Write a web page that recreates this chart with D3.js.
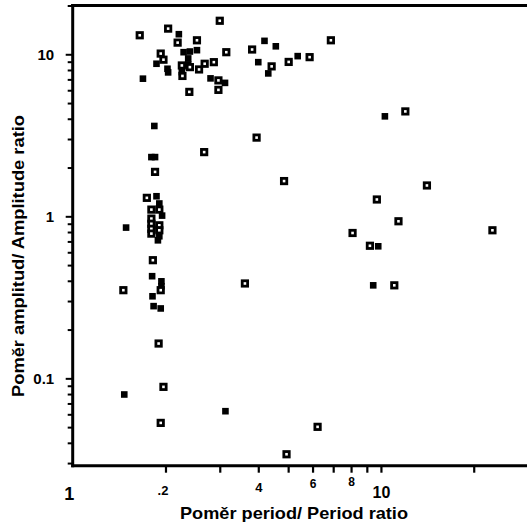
<!DOCTYPE html>
<html><head><meta charset="utf-8">
<script src="https://cdn.jsdelivr.net/npm/d3@7"></script>
<style>body{margin:0;background:#fff}svg{display:block}</style>
</head><body>
<svg id="chart" width="527" height="522"></svg>
<script>
// ---- data ----
const openPeriodRatio = [1.65,2.04,2.19,2.53,3.0,1.93,1.97,2.26,2.27,2.40,2.57,2.68,2.87,3.15,2.97,2.97,2.39,3.82,4.42,5.02,5.87,6.88,12.0,3.95,2.67,4.85,14.1,9.70,11.4,8.09,23.0,9.21,11.05,3.62,1.46,1.74,1.85,1.80,1.80,1.80,1.80,1.80,1.91,1.91,1.91,1.82,1.93,1.90,1.97,1.93,6.23,4.94];
const openAmplitudeRatio = [13.1,14.4,11.8,12.2,16.1,10.1,9.26,8.53,7.35,8.33,8.06,8.74,8.94,10.3,6.9,6.03,5.86,10.7,8.42,8.97,9.6,12.2,4.44,3.06,2.49,1.65,1.55,1.27,0.932,0.789,0.82,0.658,0.375,0.385,0.35,1.30,1.88,1.10,0.968,0.899,0.837,0.782,1.10,0.88,0.82,0.536,0.35,0.164,0.0886,0.0531,0.0502,0.034];
const filledPeriodRatio = [2.21,1.69,1.87,2.03,2.04,2.29,2.40,2.53,2.37,2.37,2.26,2.80,3.12,4.19,4.56,4.00,4.31,5.37,10.3,1.84,1.80,1.85,1.87,1.91,1.95,1.49,1.91,1.89,1.81,1.94,1.94,1.815,1.83,1.93,1.47,3.13,9.44,9.80];
const filledAmplitudeRatio = [13.3,7.07,8.74,8.14,7.73,10.3,10.4,10.6,9.43,8.66,7.76,7.10,6.66,12.1,11.2,8.94,7.62,9.74,4.14,3.61,2.32,2.32,1.33,1.20,1.01,0.852,0.753,0.711,0.427,0.397,0.370,0.321,0.279,0.270,0.0795,0.0627,0.375,0.653];
const xTickValues = [1,2,3,4,5,6,7,8,9,10,20];
const xTickLabels = ["1",".2","","4","","6","","8","","10",""];
const yMajorTicks = [0.1,1,10];
const yTickLabels = ["0.1","1","10"];
const xTitle = "Poměr period/ Period ratio";
const yTitle = "Poměr amplitud/ Amplitude ratio";

// ---- styling / layout ----
const font = "'Liberation Sans', Arial, Helvetica, sans-serif";
const xLabelStyle = { // per-label font size, baseline offset, dx
  "1":{size:18,dy:34.3,dx:-4}, ".2":{size:13,dy:29.3,dx:-3}, "4":{size:13,dy:26.3,dx:0},
  "6":{size:12,dy:22.3,dx:0}, "8":{size:12,dy:20.3,dx:0}, "10":{size:16,dy:32.8,dx:0}
};

const svg = d3.select("#chart");
const x = d3.scaleLog().domain([1,30]).range([72.7,528]);
const y = d3.scaleLog().domain([0.0289,20]).range([465.7,5.5]);

const yTicks = y.ticks().filter(v => v >= 0.03 && v <= 20);
const yAxis = d3.axisLeft(y).tickValues(yTicks).tickSizeOuter(0)
  .tickSize(5).tickFormat(v => { const i = yMajorTicks.findIndex(m => Math.abs(m - v) < 1e-9); return i >= 0 ? yTickLabels[i] : ""; });
const gy = svg.append("g").attr("transform", `translate(${x.range()[0]},0)`).call(yAxis);
gy.select(".domain").remove();
gy.selectAll(".tick line").attr("stroke","#000").attr("stroke-width",2)
  .attr("x2", d => yMajorTicks.some(m => Math.abs(m-d)<1e-9) ? -7 : -5);
gy.selectAll(".tick text").attr("x",-18.5).attr("font-family",font).attr("font-weight","bold")
  .attr("font-size",15).attr("fill","#000").attr("dy","0.36em");

const xAxis = d3.axisBottom(x).tickValues(xTickValues).tickSizeOuter(0).tickSize(7)
  .tickFormat((v,i) => xTickLabels[i]);
const gx = svg.append("g").attr("transform", `translate(0,${y.range()[0]})`).call(xAxis);
gx.select(".domain").remove();
gx.selectAll(".tick line").attr("stroke","#000").attr("stroke-width",2.2);
gx.selectAll(".tick").filter(d => d === 1).select("line").remove();
gx.selectAll(".tick text").each(function(){
  const t = d3.select(this), s = xLabelStyle[t.text()];
  if (!s) return;
  t.attr("font-family",font).attr("font-weight","bold").attr("font-size",s.size)
   .attr("fill","#000").attr("y",s.dy).attr("dy",0).attr("dx",s.dx);
});

// frame: left axis, bottom axis, top border
svg.append("line").attr("x1",x.range()[0]).attr("x2",x.range()[0]).attr("y1",y.range()[1]-1.5).attr("y2",y.range()[0]+1.5)
  .attr("stroke","#000").attr("stroke-width",3);
svg.append("line").attr("x1",x.range()[0]-1.5).attr("x2",x.range()[1]).attr("y1",y.range()[0]).attr("y2",y.range()[0])
  .attr("stroke","#000").attr("stroke-width",3);
svg.append("line").attr("x1",x.range()[0]-1.5).attr("x2",x.range()[1]).attr("y1",y.range()[1]).attr("y2",y.range()[1])
  .attr("stroke","#000").attr("stroke-width",3);

// points
const openPts = openPeriodRatio.map((v,i)=>[v,openAmplitudeRatio[i]]);
const filledPts = filledPeriodRatio.map((v,i)=>[v,filledAmplitudeRatio[i]]);
svg.append("g").selectAll("rect").data(filledPts).join("rect")
  .attr("x",d=>x(d[0])-3.3).attr("y",d=>y(d[1])-3.3).attr("width",6.6).attr("height",6.6).attr("fill","#000");
svg.append("g").selectAll("rect").data(openPts).join("rect")
  .attr("x",d=>x(d[0])-2.7).attr("y",d=>y(d[1])-2.7).attr("width",5.4).attr("height",5.4)
  .attr("fill","#fff").attr("stroke","#000").attr("stroke-width",2.8);

// titles
svg.append("text").attr("x",294).attr("y",518.5).attr("text-anchor","middle")
  .attr("font-family",font).attr("font-weight","bold").attr("font-size",16.5)
  .attr("textLength",228).attr("lengthAdjust","spacingAndGlyphs").text(xTitle);
svg.append("text").attr("transform","translate(24,256) rotate(-90)").attr("text-anchor","middle")
  .attr("font-family",font).attr("font-weight","bold").attr("font-size",17)
  .attr("textLength",282).attr("lengthAdjust","spacingAndGlyphs").text(yTitle);
</script>
</body></html>
